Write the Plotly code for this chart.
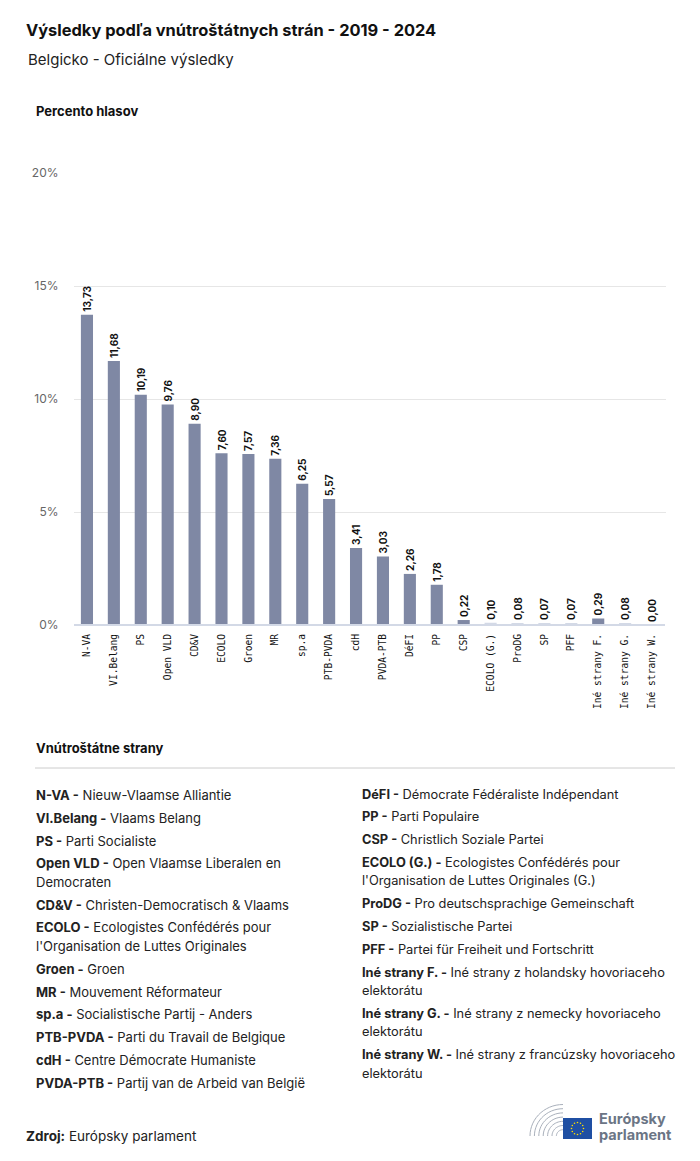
import plotly.graph_objects as go
import math

W, H = 700, 1161
OFF = 8  # browser body margin

parties = ["N-VA", "VI.Belang", "PS", "Open VLD", "CD&V", "ECOLO", "Groen", "MR", "sp.a",
           "PTB-PVDA", "cdH", "PVDA-PTB", "DéFI", "PP", "CSP", "ECOLO (G.)", "ProDG", "SP",
           "PFF", "Iné strany F.", "Iné strany G.", "Iné strany W."]
values = [13.73, 11.68, 10.19, 9.76, 8.90, 7.60, 7.57, 7.36, 6.25, 5.57, 3.41, 3.03, 2.26,
          1.78, 0.22, 0.10, 0.08, 0.07, 0.07, 0.29, 0.08, 0.00]
y_ticks = [0, 5, 10, 15, 20]

left_abbr = ["N-VA", "Vl.Belang", "PS", "Open VLD", "CD&V", "ECOLO", "Groen", "MR", "sp.a",
             "PTB-PVDA", "cdH", "PVDA-PTB"]
left_names = ["Nieuw-Vlaamse Alliantie", "Vlaams Belang", "Parti Socialiste",
              "Open Vlaamse Liberalen en|Democraten", "Christen-Democratisch & Vlaams",
              "Ecologistes Confédérés pour|l'Organisation de Luttes Originales", "Groen",
              "Mouvement Réformateur", "Socialistische Partij - Anders",
              "Parti du Travail de Belgique", "Centre Démocrate Humaniste",
              "Partij van de Arbeid van België"]
right_abbr = ["DéFI", "PP", "CSP", "ECOLO (G.)", "ProDG", "SP", "PFF", "Iné strany F.",
              "Iné strany G.", "Iné strany W."]
right_names = ["Démocrate Fédéraliste Indépendant", "Parti Populaire", "Christlich Soziale Partei",
               "Ecologistes Confédérés pour|l'Organisation de Luttes Originales (G.)",
               "Pro deutschsprachige Gemeinschaft", "Sozialistische Partei",
               "Partei für Freiheit und Fortschritt",
               "Iné strany z holandsky hovoriaceho|elektorátu",
               "Iné strany z nemecky hovoriaceho|elektorátu",
               "Iné strany z francúzsky hovoriaceho|elektorátu"]

FONT = "Inter"
BAR = "#7f88a4"
LIGHT = "#d3d9e6"

def px(x):
    return (x - OFF) / W

def py(y):
    return 1 - (y - OFF) / H

colors = [BAR if v >= 0.15 else LIGHT for v in values]
labels = [f"{v:.2f}".replace(".", ",") for v in values]

fig = go.Figure()
fig.add_trace(go.Bar(
    x=parties, y=values, marker=dict(color=colors, line=dict(width=0)),
    width=0.45, text=labels, textposition="outside", textangle=-90,
    constraintext="none",
    textfont=dict(family=FONT, size=10, color="#111", weight="bold"),
    cliponaxis=False, hoverinfo="skip",
))

fig.update_layout(
    width=W, height=H, margin=dict(l=0, r=0, t=0, b=0),
    paper_bgcolor="white", plot_bgcolor="white", showlegend=False,
    font=dict(family=FONT, color="#222"),
    xaxis=dict(domain=[px(73.5), px(665.5)], tickangle=-90, showgrid=False,
               tickfont=dict(family="DejaVu Sans Mono", size=9.6, color="#111"),
               ticklabelstandoff=6,
               showline=False, ticks="", automargin=False, fixedrange=True),
    yaxis=dict(domain=[py(625), py(173)], range=[0, 20], tickvals=y_ticks,
               ticktext=[f"{t}%" for t in y_ticks], showgrid=True, gridcolor="#e6e6e6",
               gridwidth=1, zeroline=False, tickfont=dict(family=FONT, size=12, color="#666"),
               ticklabelstandoff=14, automargin=False, fixedrange=True),
)

shapes = []
shapes.append(dict(type="line", xref="paper", yref="paper", x0=px(74), x1=px(665),
                   y0=py(625), y1=py(625), line=dict(color=LIGHT, width=2)))
shapes.append(dict(type="line", xref="paper", yref="paper", x0=px(35), x1=px(675),
                   y0=py(768), y1=py(768), line=dict(color="#cccccc", width=1)))

ann = []
def text(x, y, s, size, color="#222", bold=False, xanchor="left"):
    if bold:
        s = f"<b>{s}</b>"
    ann.append(dict(x=px(x), y=py(y), xref="paper", yref="paper", text=s, showarrow=False,
                    xanchor=xanchor, yanchor="middle", align="left",
                    font=dict(family=FONT, size=size, color=color)))

text(24, 30, "Výsledky podľa vnútroštátnych strán - 2019 - 2024", 16.4, "#111", True)
text(26, 60, "Belgicko - Oficiálne výsledky", 15, "#222")
text(34, 111, "Percento hlasov", 13, "#111", True)
text(34, 748, "Vnútroštátne strany", 13, "#111", True)

def column(x, y0, abbrs, names, size):
    y = y0
    for a, n in zip(abbrs, names):
        parts = n.split("|")
        text(x, y, f"<b>{a} -</b> {parts[0]}", size, "#222")
        for p in parts[1:]:
            y += 18.5
            text(x, y, p, size, "#222")
        y += 22.8

column(34, 795, left_abbr, left_names, 13)
column(360, 794, right_abbr, right_names, 12.8)

text(24, 1136, "<b>Zdroj:</b> Európsky parlament", 13.5, "#222")

# logo: hemicycle arcs
cx, cy = 563, 1136
for r in [6, 10, 14, 18, 22, 26, 30]:
    pts = []
    for k in range(0, 91, 6):
        a = math.radians(180 - k)
        pts.append((cx + r * 1.1 * math.cos(a), cy - r * 1.05 * math.sin(a)))
    path = "M " + " L ".join(f"{px(p[0])},{py(p[1])}" for p in pts)
    shapes.append(dict(type="path", xref="paper", yref="paper", path=path,
                       line=dict(color="#a9b0bb", width=1)))
shapes.append(dict(type="rect", xref="paper", yref="paper", x0=px(563), x1=px(592),
                   y0=py(1139), y1=py(1118), fillcolor="#1f4fa3", line=dict(width=0)))
for k in range(12):
    a = 2 * math.pi * k / 12
    sx, sy = 577.5 + 6 * math.cos(a), 1128.5 + 6 * math.sin(a)
    shapes.append(dict(type="circle", xref="paper", yref="paper",
                       x0=px(sx - 0.8), x1=px(sx + 0.8), y0=py(sy + 0.8), y1=py(sy - 0.8),
                       fillcolor="#ffdd00", line=dict(width=0)))
text(597, 1118, "Európsky", 14.5, "#6b7585", True)
text(597, 1134, "parlament", 14.5, "#6b7585", True)

fig.update_layout(shapes=shapes, annotations=ann)
fig.write_html("out.html")
